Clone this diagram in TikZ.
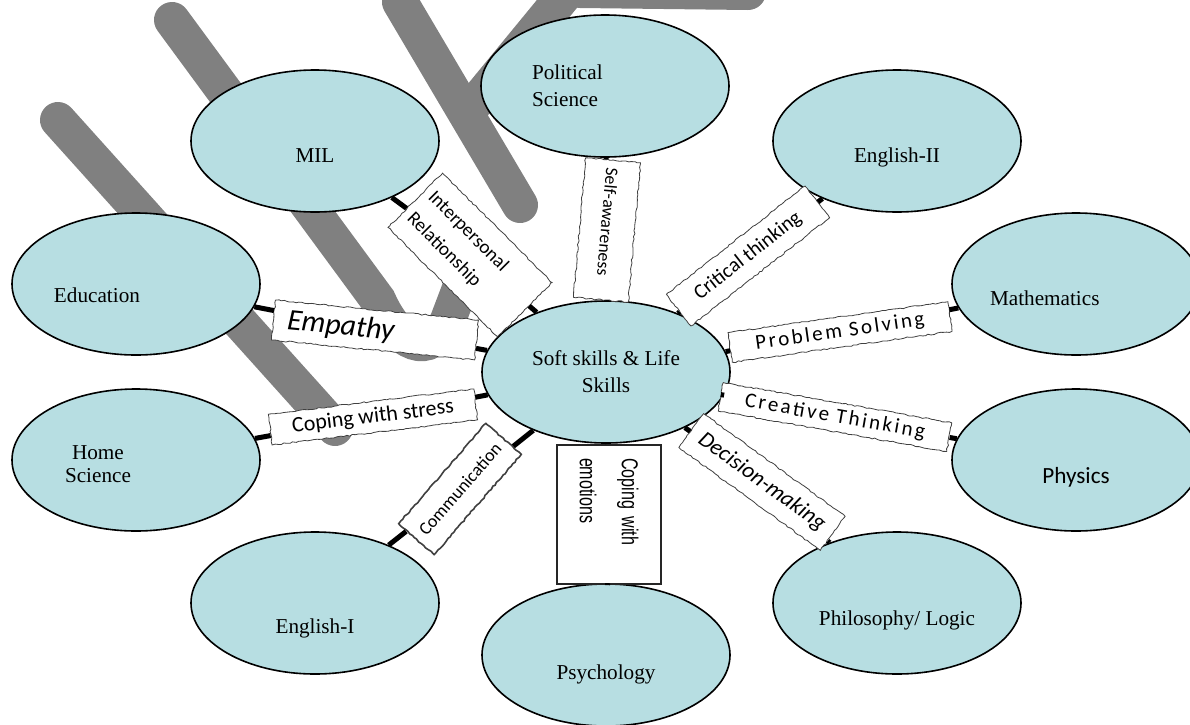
\documentclass[tikz,border=0pt]{standalone}
\usepackage{fontspec}
\setmainfont{Liberation Serif}
\newfontfamily\labelfont{Carlito}
\newfontfamily\spacedfont[LetterSpace=12]{Carlito}
\newfontfamily\narrowfont[FakeStretch=0.7]{Liberation Sans}
\usetikzlibrary{shapes.geometric}
\usetikzlibrary{decorations.pathmorphing}
\definecolor{subjectblue}{RGB}{183,222,226}
\tikzset{
	subjectstyle/.style={ellipse,draw=black,line width=0.8pt,fill=subjectblue,minimum width=124pt,minimum height=71pt,inner sep=0pt,font=\fontsize{10.6}{13.5}\selectfont},
	skillstyle/.style={rectangle,draw=black!75,fill=white,line width=0.4pt,inner sep=0pt,align=center,decorate,decoration={random steps,segment length=1.5pt,amplitude=0.35pt}},
	linkstyle/.style={line width=2.5pt,black},
	wmarkstyle/.style={line width=18pt,black!50,line cap=round},
	textdrop/.style={text height=#1,text depth=0pt}
}

\begin{document}
\begin{tikzpicture}[x=0.5pt,y=-0.5pt]
	\useasboundingbox (0,0) rectangle (1190,724);
	% background strokes
	\draw[wmarkstyle] (58,120) -- (335,428);
	\draw[wmarkstyle] (172,20) -- (378,300) .. controls (398,345) and (430,360) .. (448,320) -- (470,262);
	\draw[wmarkstyle] (400,2) -- (520,205);
	\draw[wmarkstyle] (570,-12) -- (478,100);
	\draw[wmarkstyle] (580,-10) -- (748,-8);
	% subjects
	\node[subjectstyle,textdrop=21pt] (mil) at (315,141) {MIL};
	\node[subjectstyle,text width=73pt,align=left] (pol) at (605,86) {Political\\Science};
	\node[subjectstyle,textdrop=21pt] (eng2) at (897,141) {English-II};
	\node[subjectstyle,text width=82pt,align=left,textdrop=18pt] (edu) at (136,284) {Education};
	\node[subjectstyle,text width=86pt,align=left,textdrop=21pt] (math) at (1076,284) {Mathematics};
	\node[subjectstyle,align=center] (soft) at (606,372) {Soft skills \& Life\\Skills};
	\node[subjectstyle,text width=71pt,align=left,textdrop=12pt] (home) at (136,460) {\renewcommand\arraystretch{0.85}\begin{tabular}{@{}c@{}}Home\\Science\end{tabular}};
	\node[subjectstyle,font=\labelfont\fontsize{11.6}{14}\selectfont,textdrop=23pt] (phys) at (1076,460) {Physics};
	\node[subjectstyle,textdrop=30pt] (eng1) at (315,603) {English-I};
	\node[subjectstyle,textdrop=24pt] (psy) at (606,655) {Psychology};
	\node[subjectstyle,textdrop=22pt] (phil) at (897,603) {Philosophy/ Logic};
	% life skills
	\node[skillstyle,rotate=-45,minimum width=77.5pt,minimum height=38.5pt,text width=70pt,align=left,font=\labelfont\fontsize{9.6}{15}\selectfont] (ir) at (470,255) {Interpersonal\\Relationship};
	\node[skillstyle,rotate=-5.6,minimum width=102pt,minimum height=20pt,text width=88pt,align=left,font=\labelfont\itshape\fontsize{15}{18}\selectfont] (emp) at (375,330) {Empathy};
	\node[skillstyle,rotate=-95,minimum width=70pt,minimum height=27.5pt,text width=62pt,align=left,font=\labelfont\fontsize{8.9}{10}\selectfont] (sa) at (607,230) {Self-awareness};
	\node[skillstyle,rotate=38,minimum width=88pt,minimum height=20pt,font=\labelfont\fontsize{10.3}{12}\selectfont] (ct) at (748,256) {Critical thinking};
	\node[skillstyle,rotate=8,minimum width=111pt,minimum height=15pt,font=\spacedfont\fontsize{10.5}{12}\selectfont] (ps) at (840,332) {Problem Solving};
	\node[skillstyle,rotate=-10,minimum width=116pt,minimum height=14.5pt,font=\spacedfont\fontsize{10.5}{12}\selectfont] (cr) at (835,417) {Creative Thinking};
	\node[skillstyle,rotate=-36,minimum width=87.5pt,minimum height=21pt,font=\labelfont\itshape\fontsize{11.3}{13}\selectfont] (dm) at (762,482) {Decision-making};
	\node[skillstyle,rotate=7,minimum width=103.5pt,minimum height=15.5pt,font=\labelfont\fontsize{11}{13}\selectfont] (cs) at (373,417) {Coping with stress};
	\node[skillstyle,rotate=49,minimum width=66.5pt,minimum height=23.5pt,line width=0.8pt,font=\labelfont\fontsize{9}{11}\selectfont] (co) at (460,489) {Communication};
	\node[rectangle,draw=black!85,line width=1.2pt,fill=white,rotate=-90,minimum width=69.5pt,minimum height=52pt,inner xsep=6.5pt,inner ysep=0pt,text width=56.5pt,align=left,font=\narrowfont\fontsize{11.5}{21}\selectfont] (ce) at (609,514.5) {Coping with\\emotions};
	% links
	\draw[linkstyle] (mil) -- (ir);
	\draw[linkstyle] (ir) -- (soft);
	\draw[linkstyle] (edu) -- (emp);
	\draw[linkstyle] (emp) -- (soft);
	\draw[linkstyle] (pol) -- (sa);
	\draw[linkstyle] (sa) -- (soft);
	\draw[linkstyle] (eng2) -- (ct);
	\draw[linkstyle] (ct) -- (soft);
	\draw[linkstyle] (math) -- (ps);
	\draw[linkstyle] (ps) -- (soft);
	\draw[linkstyle] (phys) -- (cr);
	\draw[linkstyle] (cr) -- (soft);
	\draw[linkstyle] (phil) -- (dm);
	\draw[linkstyle] (dm) -- (soft);
	\draw[linkstyle] (psy) -- (ce);
	\draw[linkstyle] (ce) -- (soft);
	\draw[linkstyle] (eng1) -- (co);
	\draw[linkstyle] (co) -- (soft);
	\draw[linkstyle] (home) -- (cs);
	\draw[linkstyle] (cs) -- (soft);
\end{tikzpicture}
\end{document}
